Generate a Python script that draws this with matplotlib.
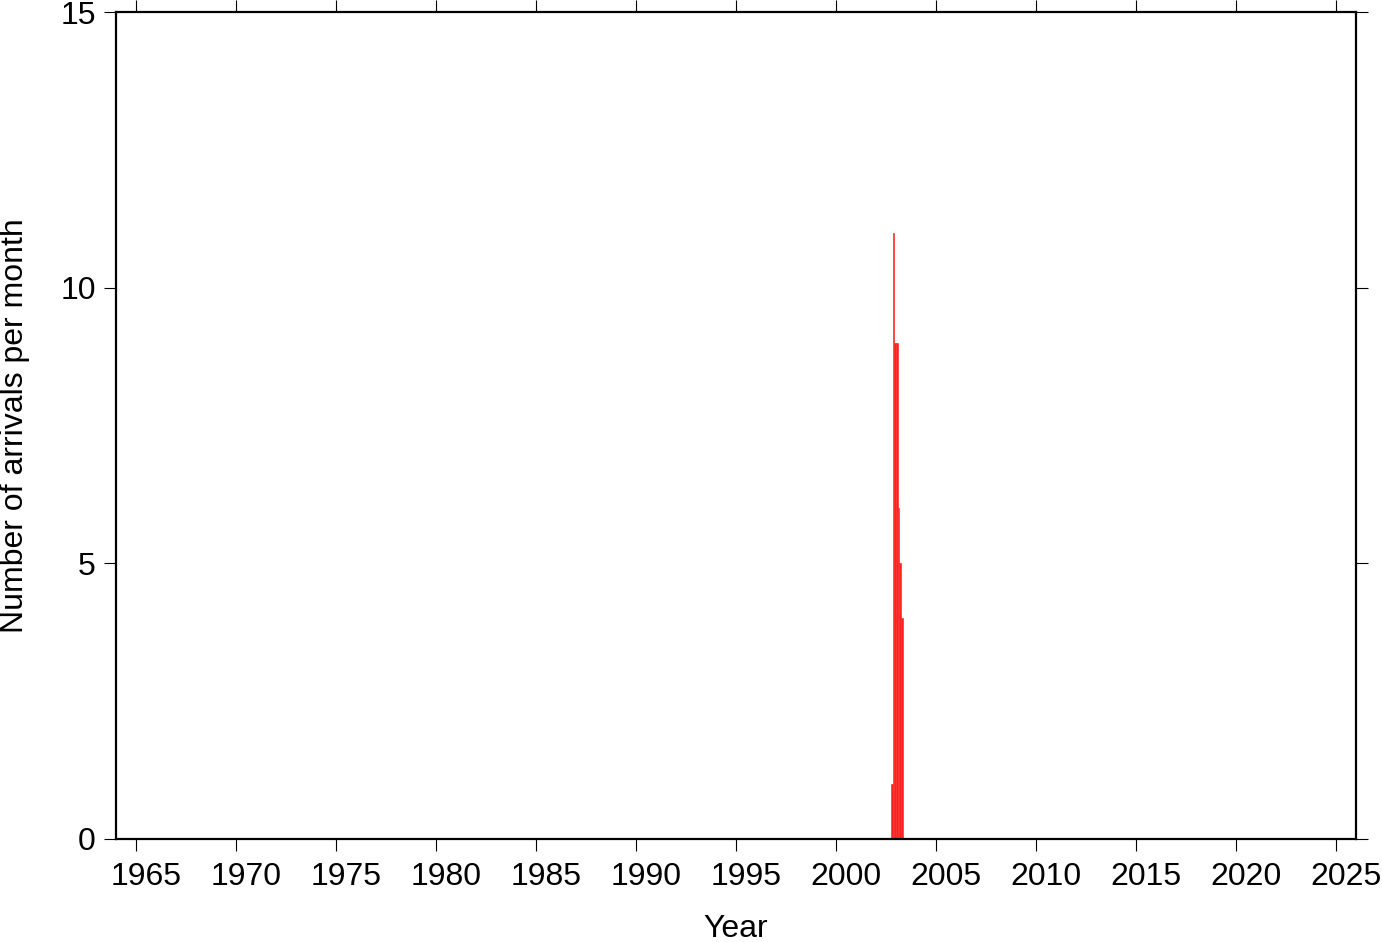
import numpy as np
import matplotlib
matplotlib.use("Agg")
import matplotlib.pyplot as plt
import matplotlib.transforms as mtransforms

plt.rcParams['font.family'] = ['Liberation Sans', 'DejaVu Sans']

# monthly arrival counts (start of month as decimal year)
months = [2002.75, 2002.8333, 2002.9167, 2003.0, 2003.0833, 2003.1667, 2003.25]
counts = [1, 11, 9, 9, 6, 5, 4]
year_ticks = list(range(1965, 2026, 5))
count_ticks = [0, 5, 10, 15]

fig = plt.figure(figsize=(13.82, 9.42), dpi=100)
ax = fig.add_axes([116 / 1382, 103 / 942, 1240 / 1382, 827 / 942])

ax.bar(months, counts, width=1 / 12, align='edge', color='#ff2020',
       edgecolor='#ff3030', linewidth=0.5)

ax.set_xlim(1964, 2026)
ax.set_ylim(0, 15)
ax.set_xticks(year_ticks)
ax.set_yticks(count_ticks)
ax.tick_params(direction='out', length=8.6, width=0.8, labelsize=23,
               top=True, right=True)
ax.tick_params(axis='x', pad=8)
ax.tick_params(axis='y', pad=6)
for s in ax.spines.values():
    s.set_linewidth(1.6)

# year labels sit a little right of their ticks
shift = mtransforms.ScaledTranslation(10 / 100, 0, fig.dpi_scale_trans)
for lab in ax.get_xticklabels():
    lab.set_transform(lab.get_transform() + shift)

ax.set_xlabel('Year', fontsize=23, labelpad=16)
ax.set_ylabel('Number of arrivals per month', fontsize=23, labelpad=22)

fig.savefig('out.png', dpi=100)
